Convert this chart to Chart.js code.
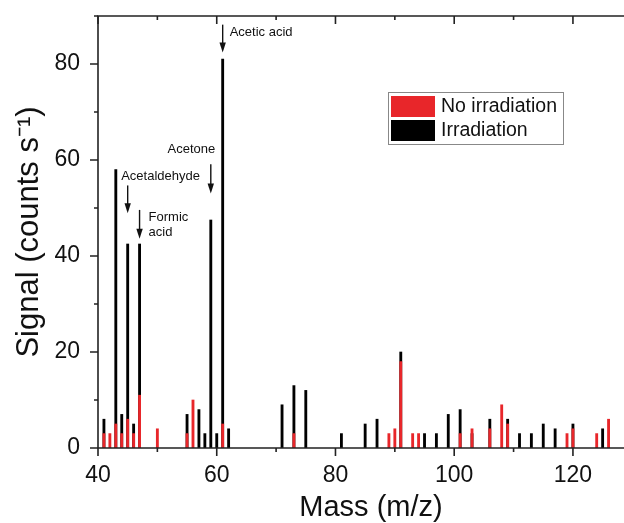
<!DOCTYPE html>
<html>
<head>
<meta charset="utf-8">
<script src="https://cdn.jsdelivr.net/npm/chart.js@4.4.1/dist/chart.umd.min.js"></script>
<style>
  html, body { margin: 0; padding: 0; background: #fff; }
  #wrap { width: 624px; height: 523px; }
</style>
</head>
<body>
<div id="wrap"><canvas id="myChart" width="624" height="523"></canvas></div>
<script>
// peaks (m/z, counts/s)
const irrMass   = [41, 43, 44, 45, 46, 47, 55, 57, 58, 59, 60, 61, 62, 71, 73, 75, 81, 85, 87, 91, 95, 97, 99, 101, 103, 106, 109, 111, 113, 115, 117, 120, 125];
const irrSignal = [6, 58, 7, 42.5, 5, 42.5, 7, 8, 3, 47.5, 3, 81, 4, 9, 13, 12, 3, 5, 6, 20, 3, 3, 7, 8, 3, 6, 6, 3, 3, 5, 4, 5, 4];

const noIrrMass   = [41, 42, 43, 44, 45, 46, 47, 50, 55, 56, 61, 73, 89, 90, 91, 93, 94, 101, 103, 106, 108, 109, 119, 120, 124, 126];
const noIrrSignal = [3, 3, 5, 3, 6, 3, 11, 4, 3, 10, 5, 3, 3, 4, 18, 3, 3, 3, 4, 4, 9, 5, 3, 4, 3, 6];

const xTickLabels = [40, 60, 80, 100, 120];
const yTickLabels = [0, 20, 40, 60, 80];

// labelled compounds
const compoundNames = [['Acetic acid'], ['Acetone'], ['Acetaldehyde'], ['Formic', 'acid']];
const compoundMass  = [61, 59, 45, 47];

const FONT = "'Liberation Sans', Arial, sans-serif";
const RED = '#e8262a';
const X_TITLE = 'Mass (m/z)';

function toPoints(xs, ys) {
    return xs.map((x, i) => ({ x: x, y: ys[i] }));
}

// arrow + text placement for each compound (arrow in data units, text offsets in px)
const arrowLayout = [
    { top: 88.2, tip: 82.4, dx: 7,    dy: 86.6, align: 'left'  },
    { top: 59.1, tip: 53.0, dx: 4.5,  dy: 62.1, align: 'right' },
    { top: 54.7, tip: 48.9, dx: -6.5, dy: 56.6, align: 'left'  },
    { top: 49.6, tip: 43.6, dx: 9,    dy: 48.1, align: 'left'  }
];

const annotations = {
    id: 'annotations',
    afterDatasetsDraw(chart) {
        const ctx = chart.ctx;
        const xs = chart.scales.x, ys = chart.scales.y;
        ctx.save();
        ctx.strokeStyle = '#111';
        ctx.fillStyle = '#111';
        ctx.lineWidth = 1.4;
        ctx.font = '13px ' + FONT;
        ctx.textBaseline = 'middle';
        compoundMass.forEach((m, i) => {
            const a = arrowLayout[i];
            const px = xs.getPixelForValue(m);
            const y0 = ys.getPixelForValue(a.top);
            const y1 = ys.getPixelForValue(a.tip);
            ctx.beginPath();
            ctx.moveTo(px, y0);
            ctx.lineTo(px, y1 - 8);
            ctx.stroke();
            ctx.beginPath();
            ctx.moveTo(px - 3.2, y1 - 10);
            ctx.lineTo(px + 3.2, y1 - 10);
            ctx.lineTo(px, y1);
            ctx.closePath();
            ctx.fill();
            ctx.textAlign = a.align;
            const ty = ys.getPixelForValue(a.dy);
            compoundNames[i].forEach((line, j) => {
                ctx.fillText(line, px + a.dx, ty + j * 15.6);
            });
        });
        ctx.restore();
    }
};

const frame = {
    id: 'frame',
    afterDatasetsDraw(chart) {
        const ctx = chart.ctx;
        const { left, right, top, bottom } = chart.chartArea;
        const xs = chart.scales.x, ys = chart.scales.y;
        ctx.save();
        ctx.strokeStyle = '#222';
        ctx.lineWidth = 1.6;
        ctx.beginPath();
        ctx.moveTo(right, top); ctx.lineTo(left, top); ctx.lineTo(left, bottom); ctx.lineTo(right, bottom);
        ctx.stroke();
        ctx.beginPath();
        for (let v = 40; v <= xs.max; v += 10) {
            const px = xs.getPixelForValue(v);
            const len = v % 20 === 0 ? 8 : 4;
            ctx.moveTo(px, bottom); ctx.lineTo(px, bottom + len);
            ctx.moveTo(px, top);    ctx.lineTo(px, top + len);
        }
        for (let v = 0; v <= ys.max; v += 10) {
            const py = ys.getPixelForValue(v);
            const len = v % 20 === 0 ? 8 : 4;
            ctx.moveTo(left, py); ctx.lineTo(left - len, py);
        }
        ctx.stroke();
        // x axis title: the original frame runs past the right edge, so its centre sits right of ours
        ctx.fillStyle = '#111';
        ctx.font = '29px ' + FONT;
        ctx.textAlign = 'center';
        ctx.textBaseline = 'middle';
        ctx.fillText(X_TITLE, (left + right) / 2 + 10, 508);
        ctx.restore();
    }
};

const boxLegend = {
    id: 'boxLegend',
    afterDraw(chart) {
        const ctx = chart.ctx;
        const { left, top } = chart.chartArea;
        const bx = left + 290, by = top + 76;
        ctx.save();
        ctx.fillStyle = '#fff';
        ctx.fillRect(bx, by, 175, 52);
        ctx.strokeStyle = '#888';
        ctx.lineWidth = 1;
        ctx.strokeRect(bx + 0.5, by + 0.5, 175, 52);
        ctx.font = '19.5px ' + FONT;
        ctx.textBaseline = 'middle';
        ctx.textAlign = 'left';
        chart.data.datasets.forEach((ds, i) => {
            const ry = by + 4 + i * 24;
            ctx.fillStyle = ds.backgroundColor;
            ctx.fillRect(bx + 3, ry, 44, 21);
            ctx.fillStyle = '#111';
            ctx.fillText(ds.label, bx + 53, ry + 11);
        });
        ctx.restore();
    }
};

const data = {
    datasets: [{
        label: 'No irradiation',
        data: toPoints(noIrrMass, noIrrSignal),
        backgroundColor: RED
    }, {
        label: 'Irradiation',
        data: toPoints(irrMass, irrSignal),
        backgroundColor: '#000'
    }]
};

const config = {
    type: 'bar',
    data: data,
    options: {
        responsive: false,
        devicePixelRatio: 1,
        animation: false,
        layout: { padding: { top: 16, right: 0, left: 0, bottom: 0 } },
        datasets: {
            bar: { grouped: false, barThickness: 2.2, borderWidth: 0 }
        },
        scales: {
            x: {
                type: 'linear',
                min: 40,
                max: 128.6,
                offset: false,
                grid: { display: false },
                border: { display: false },
                afterBuildTicks: (scale) => { scale.ticks = xTickLabels.map(v => ({ value: v })); },
                afterFit: (scale) => { scale.height = 75; scale.paddingLeft = 0; scale.paddingRight = 0; },
                ticks: { font: { family: FONT, size: 23 }, color: '#111', padding: 6, maxRotation: 0 }
            },
            y: {
                min: 0,
                max: 90,
                grid: { display: false },
                border: { display: false },
                afterBuildTicks: (scale) => { scale.ticks = yTickLabels.map(v => ({ value: v })); },
                afterFit: (scale) => { scale.width = 98; scale.paddingTop = 0; scale.paddingBottom = 0; },
                ticks: { font: { family: FONT, size: 23 }, color: '#111', padding: 10 },
                title: { display: true, text: 'Signal (counts s\u207B\u00B9)', font: { family: FONT, size: 31 }, color: '#111', padding: { top: 11, bottom: 0 } }
            }
        },
        plugins: {
            legend: { display: false },
            tooltip: { enabled: false }
        }
    },
    plugins: [frame, annotations, boxLegend]
};

var myChart = new Chart(document.getElementById('myChart'), config);
</script>
</body>
</html>
